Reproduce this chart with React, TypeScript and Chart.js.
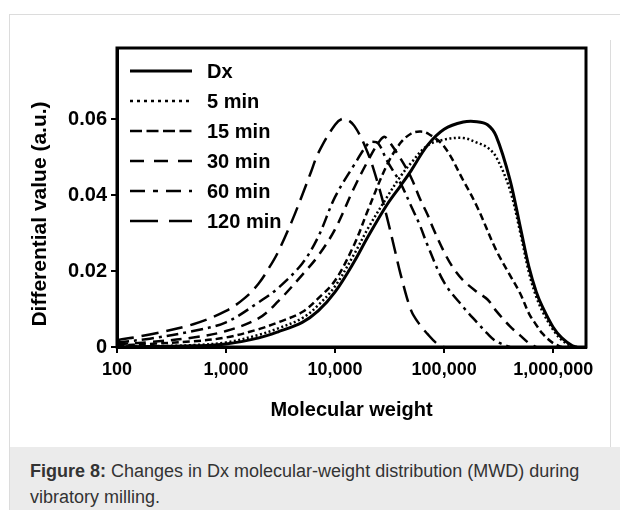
import React, { useEffect, useRef } from "react";
import { Chart, registerables } from "chart.js";

Chart.register(...registerables);

const FONT = '"Liberation Sans", Arial, Helvetica, sans-serif';

// Molecular weight (x) and differential value (y) per series
const mwDx = [100, 200, 500, 1000, 2000, 3000, 5000, 7000, 10000, 15000, 20000, 30000, 40000, 50000, 70000, 100000, 150000, 200000, 250000, 300000, 400000, 500000, 600000, 700000, 800000, 1000000, 1200000, 1500000, 1650000];
const valDx = [0, 0.0001, 0.0003, 0.0008, 0.0024, 0.004, 0.0065, 0.0095, 0.0145, 0.0225, 0.029, 0.0375, 0.0425, 0.0465, 0.053, 0.0573, 0.0592, 0.0593, 0.0585, 0.0555, 0.0442, 0.0315, 0.021, 0.0145, 0.0105, 0.0052, 0.0024, 0.0003, 0];

const mw5 = [100, 200, 500, 1000, 2000, 3000, 5000, 7000, 10000, 15000, 20000, 30000, 40000, 50000, 70000, 100000, 150000, 200000, 250000, 300000, 400000, 500000, 600000, 700000, 800000, 1000000, 1200000, 1500000, 1600000];
const val5 = [0.0001, 0.0002, 0.0005, 0.0012, 0.0032, 0.0049, 0.0076, 0.011, 0.016, 0.0245, 0.0312, 0.0395, 0.045, 0.0485, 0.053, 0.0546, 0.055, 0.0538, 0.0525, 0.05, 0.0415, 0.03, 0.0195, 0.0132, 0.0093, 0.0045, 0.0018, 0.0001, 0];

const mw15 = [100, 200, 500, 1000, 2000, 3000, 5000, 7000, 10000, 15000, 20000, 30000, 40000, 50000, 60000, 70000, 100000, 150000, 200000, 300000, 400000, 500000, 600000, 700000, 800000, 1000000, 1200000];
const val15 = [0.0004, 0.0008, 0.0015, 0.0025, 0.0047, 0.0065, 0.0092, 0.0128, 0.0175, 0.027, 0.036, 0.048, 0.0538, 0.0562, 0.0567, 0.0563, 0.0528, 0.0438, 0.037, 0.0255, 0.019, 0.014, 0.0088, 0.0058, 0.0035, 0.001, 0];

const mw30 = [100, 200, 500, 1000, 2000, 3000, 5000, 7000, 10000, 15000, 20000, 25000, 28000, 30000, 40000, 50000, 60000, 70000, 80000, 100000, 120000, 150000, 200000, 250000, 300000, 400000, 500000, 600000, 700000];
const val30 = [0.0007, 0.0013, 0.0025, 0.0042, 0.0076, 0.012, 0.019, 0.024, 0.031, 0.042, 0.049, 0.0538, 0.0553, 0.0548, 0.0495, 0.0445, 0.039, 0.035, 0.031, 0.025, 0.021, 0.0175, 0.0145, 0.0125, 0.0095, 0.0055, 0.003, 0.001, 0];

const mw60 = [100, 200, 500, 1000, 2000, 3000, 5000, 7000, 10000, 15000, 20000, 22000, 25000, 30000, 40000, 50000, 60000, 70000, 100000, 150000, 200000, 250000, 300000, 400000];
const val60 = [0.0012, 0.0022, 0.0042, 0.0065, 0.0118, 0.0155, 0.022, 0.029, 0.0395, 0.048, 0.0535, 0.054, 0.0535, 0.049, 0.043, 0.037, 0.032, 0.027, 0.017, 0.0105, 0.0065, 0.0035, 0.0015, 0];

const mw120 = [100, 200, 500, 1000, 1500, 2000, 2500, 3000, 4000, 5000, 6000, 7000, 10000, 12000, 15000, 20000, 25000, 30000, 35000, 40000, 50000, 60000, 70000, 85000, 100000];
const val120 = [0.0018, 0.0033, 0.006, 0.0095, 0.013, 0.0168, 0.021, 0.025, 0.033, 0.04, 0.046, 0.051, 0.0585, 0.0601, 0.0582, 0.051, 0.0425, 0.034, 0.026, 0.019, 0.0095, 0.0058, 0.0035, 0.001, 0];

const seriesNames = ["Dx", "5 min", "15 min", "30 min", "60 min", "120 min"];

const xTickValues = [100, 1000, 10000, 100000, 1000000];
const xTickLabels = ["100", "1,000", "10,000", "100,000", "1,000,000"];
const yTickValues = [0, 0.02, 0.04, 0.06];
const yTickLabels = ["0", "0.02", "0.04", "0.06"];

const xTitle = "Molecular weight";
const yTitle = "Differential value (a.u.)";

const lineDash = [[], [2, 2.5], [7, 4], [11, 7], [12, 5, 3, 5], [17, 8]];
const legendDash = [[], [3, 4], [12, 4.5], [14, 10], [15, 8, 5, 8], [28, 11]];
const lineWidths = [3, 2.5, 2.5, 2.5, 2.5, 2.5];

function pts(xs: number[], ys: number[]) {
  return xs.map((x, i) => ({ x, y: ys[i] }));
}

const boxPlugin = {
  id: "plotBox",
  afterDraw(chart: any) {
    const { ctx, chartArea } = chart;
    const { left, top, right, bottom } = chartArea;
    ctx.save();
    ctx.strokeStyle = "#000";
    ctx.lineWidth = 3;
    ctx.setLineDash([]);
    ctx.strokeRect(left, top, right - left, bottom - top);

    // legend
    chart.data.datasets.forEach((ds: any, i: number) => {
      const y = top + 23 + i * 30;
      ctx.beginPath();
      ctx.setLineDash(legendDash[i]);
      ctx.lineWidth = lineWidths[i];
      ctx.lineCap = "butt";
      ctx.moveTo(left + 13, y);
      ctx.lineTo(left + 75, y);
      ctx.stroke();
      ctx.setLineDash([]);
      ctx.fillStyle = "#000";
      ctx.font = `bold 20px ${FONT}`;
      ctx.textAlign = "left";
      ctx.textBaseline = "middle";
      ctx.fillText(ds.label, left + 90, y + 1);
    });

    // y axis title
    ctx.translate(40, 214);
    ctx.rotate(-Math.PI / 2);
    ctx.font = `bold 21px ${FONT}`;
    ctx.textAlign = "center";
    ctx.textBaseline = "middle";
    ctx.fillStyle = "#000";
    ctx.fillText(yTitle, 0, 0);
    ctx.restore();
  },
};

export default function App() {
  const ref = useRef<HTMLCanvasElement | null>(null);

  useEffect(() => {
    if (!ref.current) return;
    const xs = [mwDx, mw5, mw15, mw30, mw60, mw120];
    const ys = [valDx, val5, val15, val30, val60, val120];
    const xTickFont = { family: FONT, size: 18, weight: "bold" as const };
    const yTickFont = { family: FONT, size: 20, weight: "bold" as const };
    const titleFont = { family: FONT, size: 20, weight: "bold" as const };

    const chart = new Chart(ref.current, {
      type: "line",
      data: {
        datasets: seriesNames.map((name, i) => ({
          label: name,
          data: pts(xs[i], ys[i]),
          borderColor: "#000",
          backgroundColor: "rgba(0,0,0,0)",
          borderWidth: lineWidths[i],
          borderDash: lineDash[i],
          borderCapStyle: "butt" as const,
          pointRadius: 0,
          fill: false,
          tension: 0.35,
        })),
      },
      options: {
        responsive: false,
        animation: false,
        devicePixelRatio: 1,
        layout: { padding: { top: 48, right: 34, left: 0, bottom: 0 } },
        plugins: {
          legend: { display: false },
          tooltip: { enabled: false },
        },
        scales: {
          x: {
            type: "logarithmic",
            min: 100,
            max: 2000000,
            afterBuildTicks: (s: any) => {
              s.ticks = xTickValues.map((v) => ({ value: v }));
            },
            afterFit: (s: any) => {
              s.height = 100;
            },
            ticks: {
              autoSkip: false,
              maxRotation: 0,
              padding: 6,
              color: "#000",
              font: xTickFont,
              callback: (_v: any, i: number) => xTickLabels[i],
            },
            grid: { drawOnChartArea: false, drawTicks: true, tickLength: 6, color: "#000", lineWidth: 2 },
            border: { display: true, color: "#000", width: 3 },
            title: { display: true, text: xTitle, color: "#000", font: titleFont, padding: { top: 0, bottom: 25 } },
          },
          y: {
            type: "linear",
            min: 0,
            max: 0.0787,
            afterBuildTicks: (s: any) => {
              s.ticks = yTickValues.map((v) => ({ value: v }));
            },
            afterFit: (s: any) => {
              s.width = 117;
            },
            ticks: {
              padding: 4,
              color: "#000",
              font: yTickFont,
              callback: (_v: any, i: number) => yTickLabels[i],
            },
            grid: { drawOnChartArea: false, drawTicks: true, tickLength: 6, color: "#000", lineWidth: 2 },
            border: { display: true, color: "#000", width: 3 },
            title: { display: false },
          },
        },
      } as any,
      plugins: [boxPlugin],
    });
    return () => chart.destroy();
  }, []);

  return (
    <div style={{ position: "absolute", left: 0, top: 0, width: 620, height: 510, background: "#fff", overflow: "hidden", fontFamily: FONT }}>
      <div style={{ position: "absolute", left: 9, top: 14, width: 611, height: 1, background: "#dcdcdc" }} />
      <div style={{ position: "absolute", left: 9, top: 14, width: 1, height: 496, background: "#dcdcdc" }} />
      <div style={{ position: "absolute", left: 610, top: 40, width: 1, height: 407, background: "#dcdcdc" }} />
      <canvas ref={ref} width={620} height={447} style={{ position: "absolute", left: 0, top: 0, width: 620, height: 447 }} />
      <div style={{ position: "absolute", left: 10, top: 447, width: 610, height: 63, background: "#ebebeb" }}>
        <div style={{ position: "absolute", left: 20, top: 11, fontSize: 18, lineHeight: "26px", color: "#333", whiteSpace: "nowrap" }}>
          <b>Figure 8:</b> Changes in Dx molecular-weight distribution (MWD) during
          <br />
          vibratory milling.
        </div>
      </div>
    </div>
  );
}
